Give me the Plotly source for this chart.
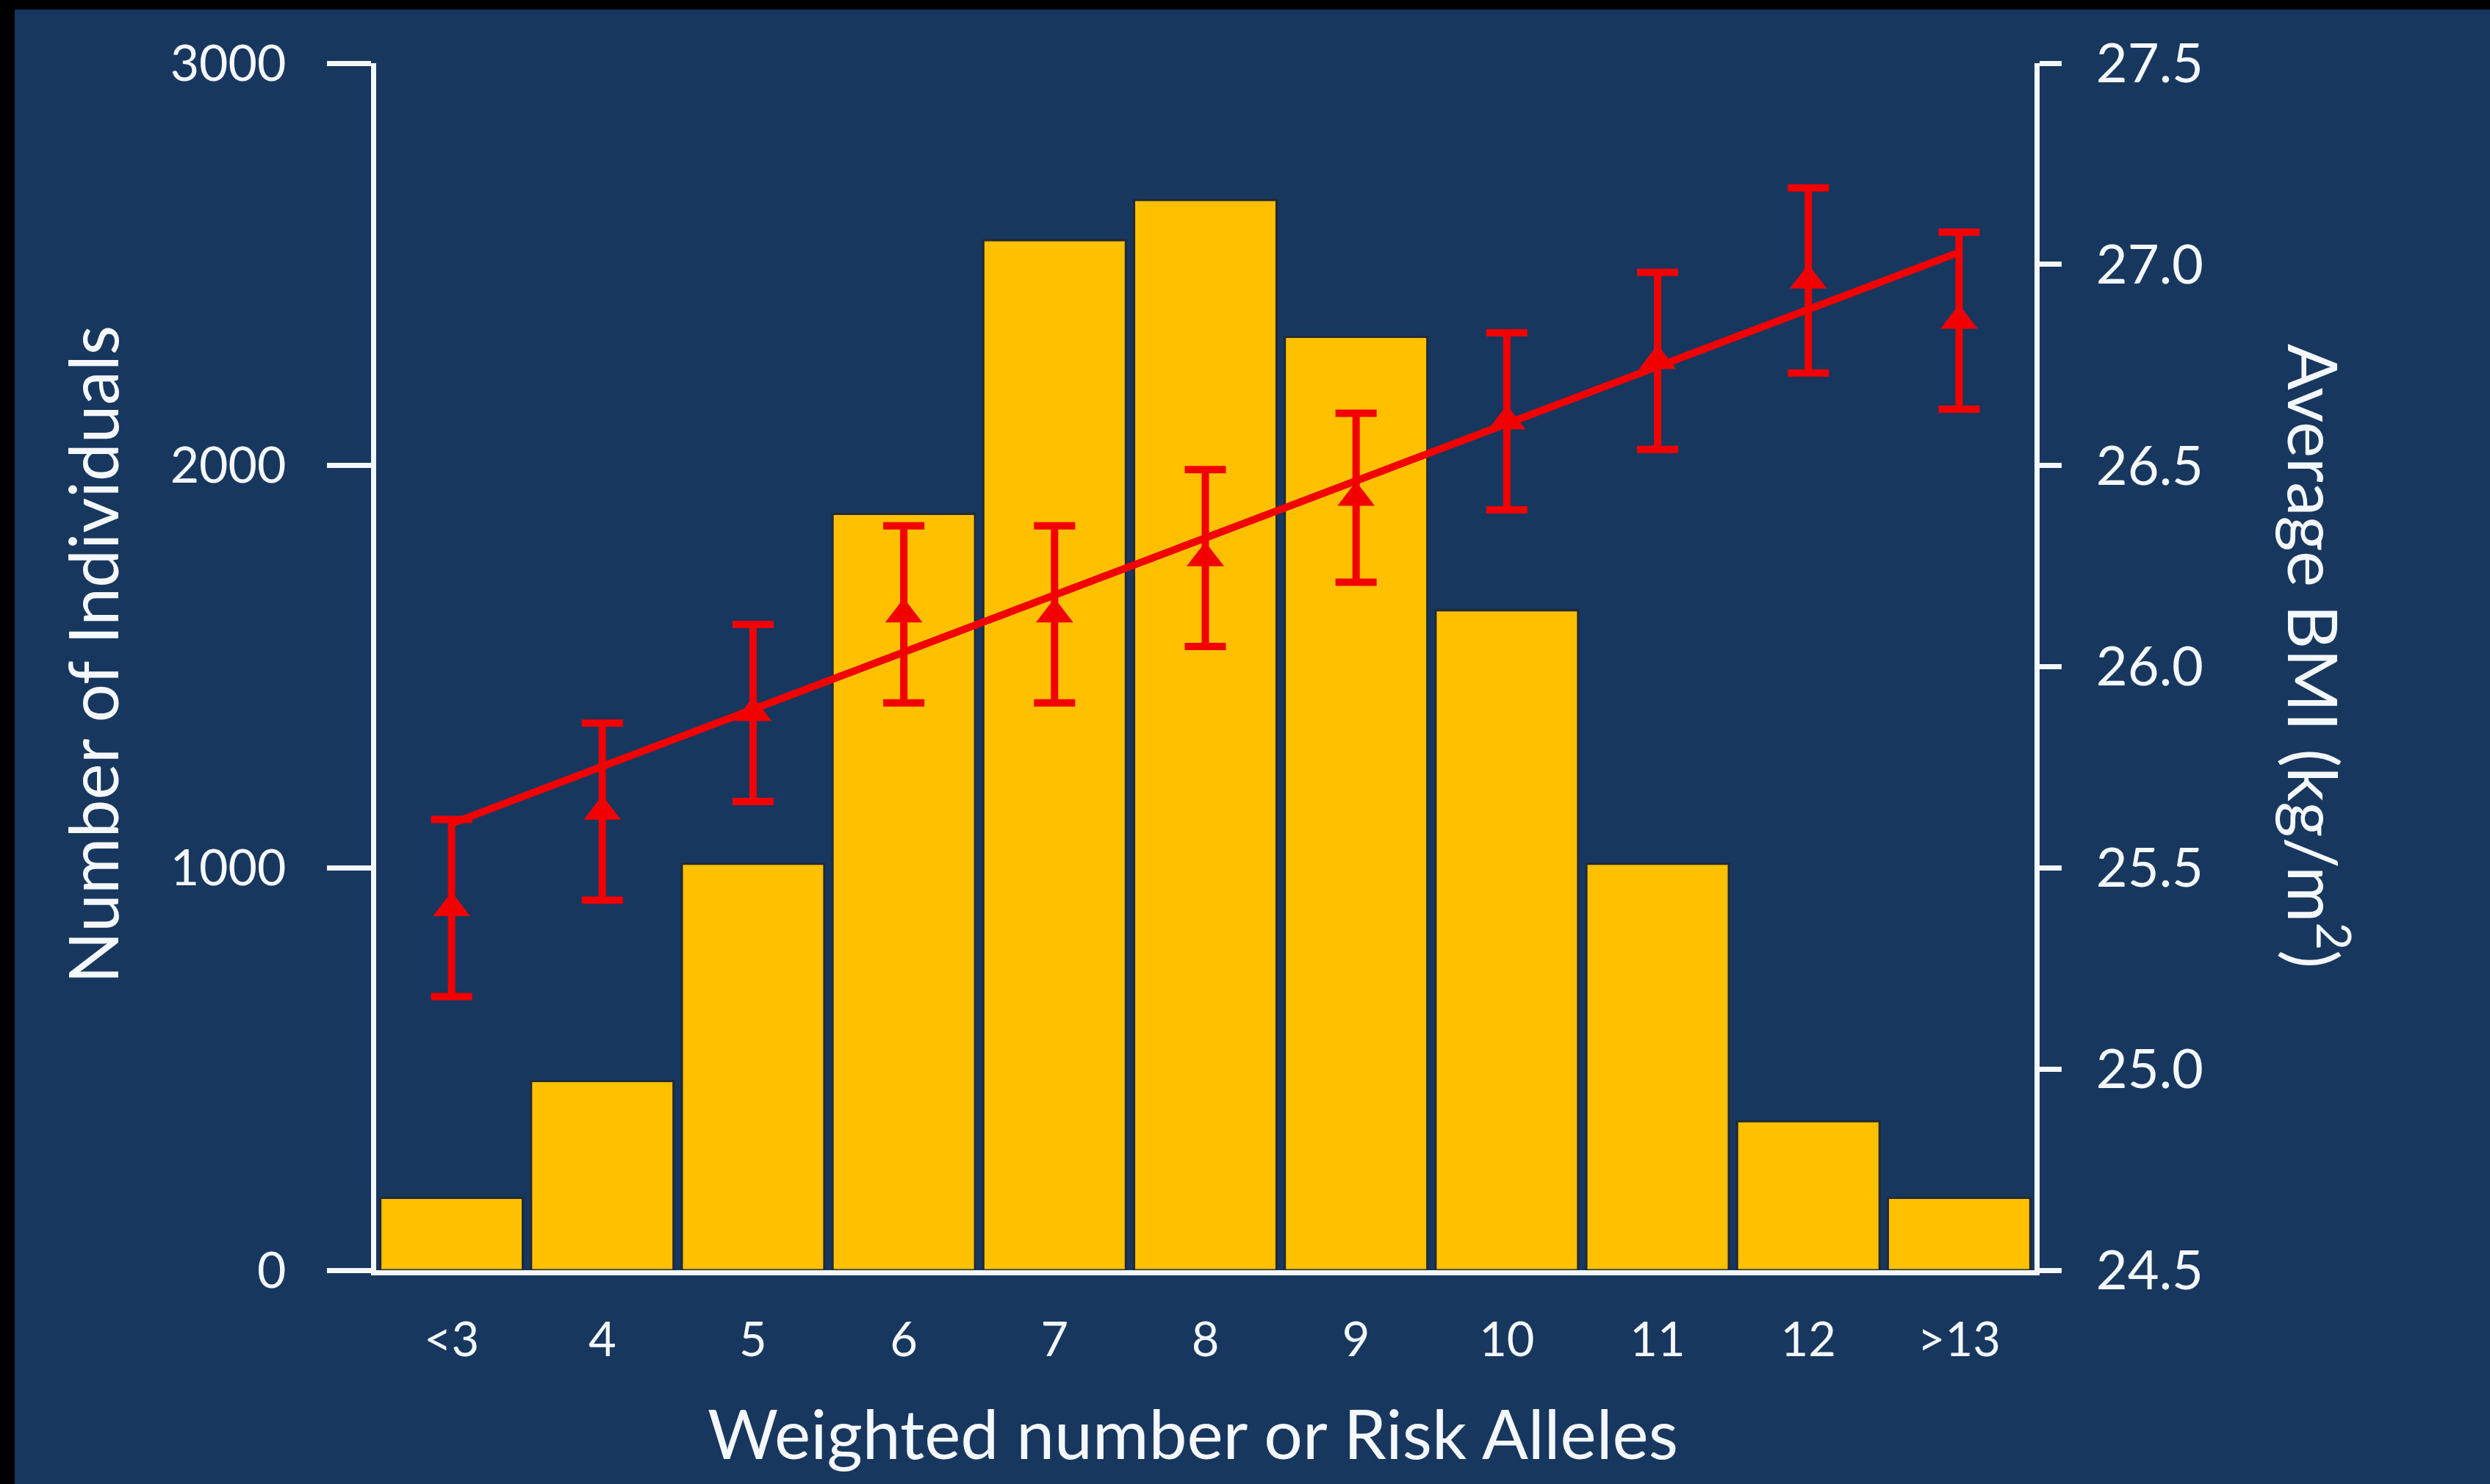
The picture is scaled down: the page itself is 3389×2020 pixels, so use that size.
import plotly.graph_objects as go

# Risk-allele score categories
categories = ["<3", "4", "5", "6", "7", "8", "9", "10", "11", "12", ">13"]

# Number of individuals in each category (left axis)
individuals = [180, 470, 1010, 1880, 2560, 2660, 2320, 1640, 1010, 370, 180]

# Average BMI per category with its error (right axis)
bmi_mean = [25.40, 25.64, 25.885, 26.13, 26.13, 26.27, 26.42, 26.61, 26.76, 26.96, 26.86]
bmi_err = [0.22, 0.22, 0.22, 0.22, 0.22, 0.22, 0.21, 0.22, 0.22, 0.23, 0.22]

# Fitted trend across the categories (first and last category)
trend_x = ["<3", ">13"]
trend_bmi = [25.61, 27.03]

left_ticks = [0, 1000, 2000, 3000]
right_ticks = [24.5, 25.0, 25.5, 26.0, 26.5, 27.0, 27.5]

NAVY = "#17375E"
GOLD = "#FFC000"
RED = "#F20000"
WHITE = "#F4F7FC"
FONT = "Lato"

W, H = 3389, 2020
L, R, T, B = 512, 620, 86, 291
PW, PH = W - L - R, H - T - B


def px_x(px):
    return (px - L) / PW


def px_y(py):
    return (H - B - py) / PH


fig = go.Figure()

fig.add_trace(go.Bar(
    x=categories, y=individuals,
    marker=dict(color=GOLD, line=dict(color="#222a36", width=3)),
    yaxis="y", showlegend=False,
))

fig.add_trace(go.Scatter(
    x=trend_x, y=trend_bmi, mode="lines",
    line=dict(color=RED, width=10),
    yaxis="y2", showlegend=False,
))

fig.add_trace(go.Scatter(
    x=categories, y=bmi_mean, mode="markers",
    marker=dict(symbol="triangle-up", size=44, color=RED),
    error_y=dict(type="data", array=bmi_err, visible=True,
                 color=RED, thickness=10, width=28),
    yaxis="y2", showlegend=False,
))

title_font = dict(family=FONT, size=93, color=WHITE)

fig.update_layout(
    width=W, height=H,
    margin=dict(l=L, r=R, t=T, b=B, pad=0),
    paper_bgcolor=NAVY, plot_bgcolor=NAVY,
    bargap=0.055,
    xaxis=dict(
        type="category", range=[-0.5, 10.5],
        showline=True, linecolor=WHITE, linewidth=7,
        ticks="", showgrid=False, zeroline=False,
        tickfont=dict(family=FONT, size=65, color=WHITE),
        ticklabelstandoff=32,
    ),
    yaxis=dict(
        range=[0, 3000], tickvals=left_ticks,
        showline=True, linecolor=WHITE, linewidth=7,
        ticks="outside", ticklen=60, tickwidth=7, tickcolor=WHITE,
        showgrid=False, zeroline=False,
        tickfont=dict(family=FONT, size=68, color=WHITE),
        ticklabelstandoff=42,
    ),
    yaxis2=dict(
        range=[24.5, 27.5], tickvals=right_ticks, tickformat=".1f",
        overlaying="y", side="right",
        showline=True, linecolor=WHITE, linewidth=7,
        ticks="outside", ticklen=30, tickwidth=7, tickcolor=WHITE,
        showgrid=False, zeroline=False,
        tickfont=dict(family=FONT, size=74, color=WHITE),
        ticklabelstandoff=32,
    ),
    annotations=[
        dict(text="Number of Individuals", textangle=-90,
             x=px_x(125), y=px_y(891), xref="paper", yref="paper",
             xanchor="center", yanchor="middle", showarrow=False,
             font=title_font),
        dict(text="Average BMI (kg/m<sup>2</sup>)", textangle=90,
             x=px_x(3156), y=px_y(893), xref="paper", yref="paper",
             xanchor="center", yanchor="middle", showarrow=False,
             font=title_font),
        dict(text="Weighted number or Risk Alleles",
             x=px_x(1623), y=px_y(1950), xref="paper", yref="paper",
             xanchor="center", yanchor="middle", showarrow=False,
             font=title_font),
    ],
    shapes=[
        dict(type="rect", xref="paper", yref="paper", layer="below",
             x0=px_x(0), x1=px_x(20), y0=px_y(H), y1=px_y(0),
             fillcolor="black", line=dict(width=0)),
        dict(type="rect", xref="paper", yref="paper", layer="below",
             x0=px_x(0), x1=px_x(W), y0=px_y(13), y1=px_y(0),
             fillcolor="black", line=dict(width=0)),
    ],
)

fig.write_html("out.html")
